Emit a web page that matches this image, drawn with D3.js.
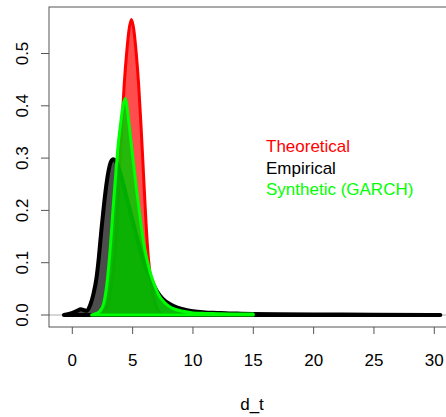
<!DOCTYPE html>
<html>
<head>
<meta charset="utf-8">
<script src="https://cdn.jsdelivr.net/npm/d3@7"></script>
<style>
  body { margin: 0; background: #fff; }
  text { font-family: "Liberation Sans", Arial, sans-serif; }
</style>
</head>
<body>
<svg id="chart"></svg>
<script>
// density estimates
const theoX = [2.4, 2.65, 2.95, 3.2, 3.5, 3.7, 3.9, 4.1, 4.3, 4.5, 4.7, 4.9, 5.1, 5.3, 5.5, 5.7, 5.9, 6.1, 6.3, 6.6, 6.9, 7.2, 7.5];
const theoY = [0, 0.006, 0.02, 0.05, 0.11, 0.18, 0.27, 0.36, 0.44, 0.5, 0.545, 0.565, 0.545, 0.5, 0.44, 0.36, 0.27, 0.18, 0.11, 0.05, 0.02, 0.006, 0];

const empX = [-0.7, -0.3, 0, 0.4, 0.7, 1.0, 1.2, 1.5, 1.75, 2.0, 2.2, 2.4, 2.6, 2.8, 3.0, 3.2, 3.4, 3.6, 3.8, 4.0, 4.5, 5.0, 5.5, 6.0, 6.5, 7.0, 7.5, 8.0, 8.5, 9.0, 9.5, 10, 11, 12, 13, 14, 15, 17, 20, 25, 30.5];
const empY = [0, 0.002, 0.004, 0.008, 0.011, 0.009, 0.008, 0.02, 0.04, 0.07, 0.11, 0.16, 0.205, 0.245, 0.275, 0.293, 0.298, 0.294, 0.284, 0.27, 0.225, 0.18, 0.135, 0.098, 0.07, 0.046, 0.031, 0.022, 0.016, 0.012, 0.009, 0.007, 0.005, 0.004, 0.003, 0.0025, 0.002, 0.0015, 0.001, 0.0005, 0];

const synthX = [1.6, 2.0, 2.3, 2.6, 2.85, 3.1, 3.4, 3.6, 3.8, 4.0, 4.2, 4.4, 4.55, 4.7, 5.0, 5.3, 5.6, 5.9, 6.2, 6.5, 6.8, 7.2, 7.6, 8.0, 8.5, 9.2, 10, 11, 12, 13, 14, 15];
const synthY = [0, 0.003, 0.008, 0.022, 0.056, 0.115, 0.21, 0.27, 0.325, 0.365, 0.4, 0.414, 0.395, 0.365, 0.305, 0.245, 0.19, 0.14, 0.105, 0.078, 0.058, 0.037, 0.025, 0.017, 0.011, 0.007, 0.004, 0.003, 0.0025, 0.002, 0.002, 0.002];

const xTicks = [0, 5, 10, 15, 20, 25, 30];
const yTicks = [0, 0.1, 0.2, 0.3, 0.4, 0.5];
const legendNames = ["Theoretical", "Empirical", "Synthetic (GARCH)"];

let W = 446, H = 417;
let box = {left: 49, top: 7, bottom: 327, right: 452};

let svg = d3.select("#chart").attr("width", W).attr("height", H);

let x = d3.scaleLinear().domain([0, 30]).range([72.3, 434.3]);
let y = d3.scaleLinear().domain([0, 0.5]).range([315, 53.5]);

const zip = (xs, ys) => xs.map((v, i) => ({x: v, y: ys[i]}));

let area = d3.area()
  .x(d => x(d.x))
  .y0(y(0))
  .y1(d => y(d.y))
  .curve(d3.curveMonotoneX);

// baseline
svg.append("line")
  .attr("x1", box.left).attr("x2", box.right)
  .attr("y1", y(0)).attr("y2", y(0))
  .attr("stroke", "#d6d6d6").attr("stroke-width", 2);

// theoretical
svg.append("path")
  .datum(zip(theoX, theoY))
  .attr("d", area)
  .attr("fill", "#ff0000").attr("fill-opacity", 0.7)
  .attr("stroke", "#ff0000").attr("stroke-width", 3)
  .attr("stroke-linejoin", "round");

// empirical
svg.append("path")
  .datum(zip(empX, empY))
  .attr("d", area)
  .attr("fill", "#000").attr("fill-opacity", 0.7)
  .attr("stroke", "#000").attr("stroke-width", 4)
  .attr("stroke-linejoin", "round");

// synthetic
svg.append("path")
  .datum(zip(synthX, synthY))
  .attr("d", area)
  .attr("fill", "rgb(0,205,0)").attr("fill-opacity", 0.85)
  .attr("stroke", "#00ff00").attr("stroke-width", 3)
  .attr("stroke-linejoin", "round");

// box
svg.append("rect")
  .attr("x", box.left).attr("y", box.top)
  .attr("width", box.right - box.left).attr("height", box.bottom - box.top)
  .attr("fill", "none").attr("stroke", "#555").attr("stroke-width", 1);

// x axis
let xAxis = svg.append("g");
xAxis.selectAll("line").data(xTicks).enter().append("line")
  .attr("x1", d => x(d)).attr("x2", d => x(d))
  .attr("y1", box.bottom).attr("y2", box.bottom + 7)
  .attr("stroke", "#555");
xAxis.selectAll("text").data(xTicks).enter().append("text")
  .attr("x", d => x(d)).attr("y", 366)
  .attr("text-anchor", "middle")
  .style("font-size", "17px")
  .text(d => d);

// y axis
let yAxis = svg.append("g");
yAxis.selectAll("line").data(yTicks).enter().append("line")
  .attr("x1", box.left - 8).attr("x2", box.left)
  .attr("y1", d => y(d)).attr("y2", d => y(d))
  .attr("stroke", "#555");
yAxis.selectAll("text").data(yTicks).enter().append("text")
  .attr("transform", d => "translate(28," + y(d) + ") rotate(-90)")
  .attr("text-anchor", "middle")
  .style("font-size", "17px")
  .text(d => d.toFixed(1));

svg.append("text")
  .attr("x", 252).attr("y", 410)
  .attr("text-anchor", "middle")
  .style("font-size", "17px")
  .text("d_t");

// legend
const legendColors = ["#ff0000", "#000000", "#00ff00"];
svg.selectAll(".legend").data(legendNames).enter().append("text")
  .attr("class", "legend")
  .attr("x", 266).attr("y", (d, i) => 152 + i * 21.5)
  .style("font-size", "17px")
  .style("fill", (d, i) => legendColors[i])
  .text(d => d);
</script>
</body>
</html>
